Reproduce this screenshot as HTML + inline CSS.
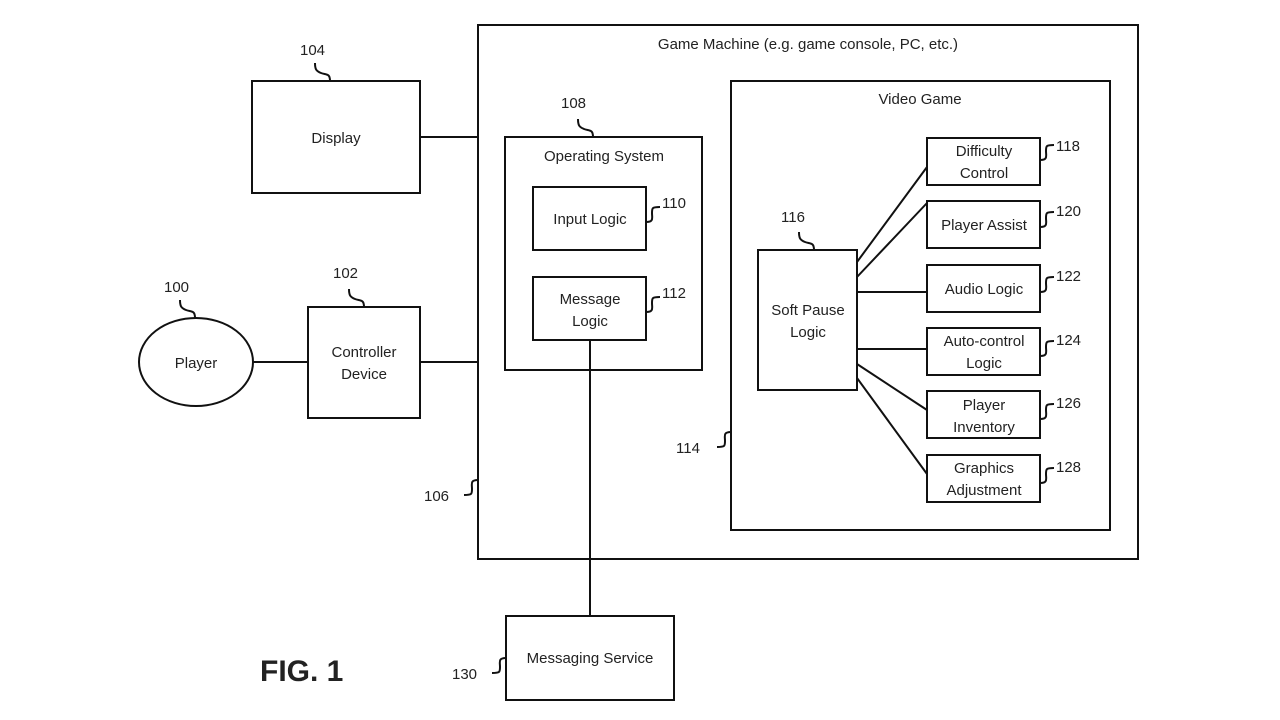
<!DOCTYPE html>
<html><head><meta charset="utf-8"><style>body{margin:0;background:#fff}svg{display:block}text{font-family:"Liberation Sans",sans-serif;font-size:15px;fill:#222}</style></head><body>
<svg width="1280" height="720" viewBox="0 0 1280 720" xmlns="http://www.w3.org/2000/svg">
<g fill="none" stroke="#111" stroke-width="2">
<rect x="252" y="81" width="168" height="112"/>
<ellipse cx="196" cy="362" rx="57" ry="44"/>
<rect x="308" y="307" width="112" height="111"/>
<rect x="478" y="25" width="660" height="534"/>
<rect x="505" y="137" width="197" height="233"/>
<rect x="533" y="187" width="113" height="63"/>
<rect x="533" y="277" width="113" height="63"/>
<rect x="731" y="81" width="379" height="449"/>
<rect x="758" y="250" width="99" height="140"/>
<rect x="927" y="138" width="113" height="47"/>
<rect x="927" y="201" width="113" height="47"/>
<rect x="927" y="265" width="113" height="47"/>
<rect x="927" y="328" width="113" height="47"/>
<rect x="927" y="391" width="113" height="47"/>
<rect x="927" y="455" width="113" height="47"/>
<rect x="506" y="616" width="168" height="84"/>
<path d="M420 137H478M420 362H478M253 362H308M590 340V616"/>
<path d="M857 262L927 167M857 277L927 203M857 292H927M857 349H927M857 364L927 410M857 378L927 474"/>
<path d="M1040 160c8 0 6-4 6-9s0-6 8-6M1040 227c8 0 6-4 6-9s0-6 8-6M1040 292c8 0 6-4 6-9s0-6 8-6M1040 356c8 0 6-4 6-9s0-6 8-6M1040 419c8 0 6-4 6-9s0-6 8-6M1040 483c8 0 6-4 6-9s0-6 8-6"/>
<path d="M646 222c8 0 6-4 6-9s0-6 8-6M646 312c8 0 6-4 6-9s0-6 8-6"/>
<path d="M330 81c0-8-4-6-9-8s-6-4-6-10M364 307c0-8-4-6-9-8s-6-4-6-10M195 318c0-8-4-6-9-8s-6-4-6-10M593 137c0-8-4-6-9-8s-6-4-6-10M814 250c0-8-4-6-9-8s-6-4-6-10"/>
<path d="M478 480c-8 0-6 4-6 9s0 6-8 6M731 432c-8 0-6 4-6 9s0 6-8 6M506 658c-8 0-6 4-6 9s0 6-8 6"/>
</g>
<g text-anchor="middle">
<text x="336" y="143">Display</text>
<text x="196" y="368">Player</text>
<text x="364" y="357">Controller</text><text x="364" y="379">Device</text>
<text x="808" y="49">Game Machine (e.g. game console, PC, etc.)</text>
<text x="604" y="161">Operating System</text>
<text x="590" y="224">Input Logic</text>
<text x="590" y="304">Message</text><text x="590" y="326">Logic</text>
<text x="920" y="104">Video Game</text>
<text x="808" y="315">Soft Pause</text><text x="808" y="337">Logic</text>
<text x="984" y="156">Difficulty</text><text x="984" y="178">Control</text>
<text x="984" y="230">Player Assist</text>
<text x="984" y="294">Audio Logic</text>
<text x="984" y="346">Auto-control</text><text x="984" y="368">Logic</text>
<text x="984" y="410">Player</text><text x="984" y="432">Inventory</text>
<text x="984" y="473">Graphics</text><text x="984" y="495">Adjustment</text>
<text x="590" y="663">Messaging Service</text>
</g>
<g font-size="14">
<text x="300" y="55">104</text><text x="333" y="278">102</text><text x="164" y="292">100</text>
<text x="561" y="108">108</text><text x="781" y="222">116</text>
<text x="662" y="208">110</text><text x="662" y="298">112</text>
<text x="1056" y="151">118</text><text x="1056" y="216">120</text><text x="1056" y="281">122</text>
<text x="1056" y="345">124</text><text x="1056" y="408">126</text><text x="1056" y="472">128</text>
<text x="424" y="501">106</text><text x="676" y="453">114</text><text x="452" y="679">130</text>
</g>
<text x="260" y="681" style="font-size:30px;font-weight:bold">FIG. 1</text>
</svg>
</body></html>
